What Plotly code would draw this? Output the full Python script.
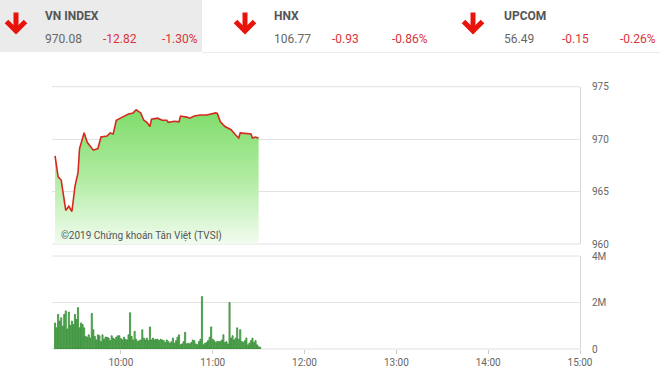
import pandas as pd
import plotly.graph_objects as go

DAY = "2019-01-01 "

# ---- price line (VN-Index intraday) ----
price_times = ["09:17", "09:19", "09:21", "09:22", "09:24", "09:26", "09:28", "09:30", "09:32", "09:33",
               "09:36", "09:38", "09:42", "09:45", "09:47", "09:51", "09:53", "09:55", "09:57", "10:01",
               "10:05", "10:08", "10:10", "10:13", "10:15", "10:17", "10:19", "10:20", "10:24", "10:27",
               "10:30", "10:31", "10:35", "10:38", "10:39", "10:43", "10:45", "10:48", "10:52", "10:56",
               "11:00", "11:02", "11:03", "11:05", "11:08", "11:12", "11:15", "11:17", "11:18", "11:21",
               "11:25", "11:26", "11:28", "11:30"]
price_values = [968.4, 966.4, 966.1, 965.1, 963.2, 963.6, 963.1, 965.5, 966.8, 969.1,
                970.6, 969.7, 968.95, 969.1, 970.2, 970.3, 970.6, 970.5, 971.8, 972.1,
                972.4, 972.5, 972.8, 972.5, 971.8, 971.6, 971.2, 971.9, 972.0, 971.8,
                971.8, 971.6, 971.7, 971.65, 972.2, 972.1, 972.0, 972.2, 972.3, 972.3,
                972.4, 972.5, 972.45, 971.65, 971.2, 970.9, 970.4, 970.1, 970.6, 970.55,
                970.5, 970.1, 970.2, 970.08]

# ---- volume (millions of shares), one bar per minute from 09:17 ----
vol_start = "09:17"
volumes = [1.12, 0.91, 1.49, 1.20, 1.34, 0.98, 1.49, 1.64, 0.86, 1.59, 1.01,
           1.20, 1.05, 1.49, 1.27, 1.78, 0.91, 1.12, 1.05, 0.91, 0.54, 0.51,
           0.61, 0.47, 1.53, 0.83, 0.54, 0.39, 0.61, 0.57, 0.32, 0.61, 0.42,
           0.51, 0.51, 0.47, 0.36, 0.57, 0.47, 0.42, 0.51, 0.57, 0.57, 0.45,
           0.39, 0.51, 0.42, 0.39, 0.61, 1.56, 0.54, 0.39, 0.76, 0.42, 0.32,
           0.36, 0.39, 0.83, 0.47, 0.39, 0.47, 0.36, 0.95, 0.39, 0.47, 0.39,
           0.42, 0.42, 0.36, 0.42, 0.39, 0.36, 0.28, 0.39, 0.32, 0.25, 0.31,
           0.47, 0.25, 0.36, 0.51, 0.61, 0.18, 0.22, 0.32, 0.72, 0.22, 0.25,
           0.22, 0.28, 0.39, 0.36, 0.22, 0.18, 0.32, 0.42, 2.26, 0.18, 0.25,
           0.28, 0.36, 0.51, 0.95, 0.42, 0.36, 0.28, 0.32, 0.32, 0.32,
           0.39, 0.61, 0.28, 0.32, 0.22, 2.00, 0.47, 0.57, 0.39, 0.47,
           0.91, 0.42, 0.83, 0.32, 0.28, 0.36, 0.47, 0.18, 0.25, 0.36,
           0.47, 0.28, 0.36, 0.18, 0.10, 0.07]

# ---- axis ticks ----
x_tick_labels = ["10:00", "11:00", "12:00", "13:00", "14:00", "15:00"]
price_ticks = [960, 965, 970, 975]
vol_ticks = [0, 2, 4]
vol_tick_labels = ["0", "2M", "4M"]

# ---- header quotes ----
idx_names = ["VN INDEX", "HNX", "UPCOM"]
idx_values = ["970.08", "106.77", "56.49"]
idx_changes = ["-12.82", "-0.93", "-0.15"]
idx_pcts = ["-1.30%", "-0.86%", "-0.26%"]

W, H = 660, 377
ML, MR = 52, 80
PW = W - ML - MR


def px(x):
    return (x - ML) / PW


def py(y):
    return 1 - y / H


pt = pd.to_datetime([DAY + t for t in price_times])
vt = pd.date_range(DAY + vol_start, periods=len(volumes), freq="min")

fig = go.Figure()
fig.add_trace(go.Scatter(
    x=pt, y=price_values, mode="lines", xaxis="x", yaxis="y",
    line=dict(color="#d52a1f", width=1.6),
    fill="tozeroy",
    fillgradient=dict(type="vertical", start=960, stop=973,
                      colorscale=[[0, "rgb(242,252,240)"], [0.5, "rgb(175,235,160)"],
                                  [1, "rgb(125,220,105)"]]),
    hoverinfo="skip", showlegend=False,
))
fig.add_trace(go.Bar(
    x=vt, y=volumes, xaxis="x2", yaxis="y2",
    marker=dict(color="#6cc26c", line=dict(color="#2a832a", width=0.7)),
    hoverinfo="skip", showlegend=False,
))

xr = [DAY + "09:15", DAY + "15:00"]
tickvals = [DAY + t for t in x_tick_labels]
axis_font = dict(family="Roboto", size=10, color="#666")

fig.update_layout(
    width=W, height=H,
    margin=dict(l=ML, r=MR, t=0, b=0),
    paper_bgcolor="white", plot_bgcolor="white",
    bargap=0.25,
    xaxis=dict(domain=[0, 1], anchor="y", range=xr, showgrid=False, showticklabels=False,
               zeroline=False, showline=False, ticks="", automargin=False),
    yaxis=dict(domain=[py(244), py(86.7)], anchor="x", side="right", range=[960, 975],
               tickvals=price_ticks, gridcolor="#e3e3e3", gridwidth=1, zeroline=False,
               showline=True, linecolor="#d8d8d8", linewidth=1, ticks="outside",
               ticklen=9, tickcolor="rgba(0,0,0,0)", tickfont=axis_font, automargin=False),
    xaxis2=dict(domain=[0, 1], anchor="y2", range=xr, matches="x", showgrid=False,
                tickvals=tickvals, ticktext=x_tick_labels, ticks="outside", ticklen=4,
                tickcolor="#cfcfcf", showline=False, zeroline=False, tickfont=axis_font,
                automargin=False),
    yaxis2=dict(domain=[py(349), py(256)], anchor="x2", side="right", range=[0, 4],
                tickvals=vol_ticks, ticktext=vol_tick_labels, gridcolor="#e3e3e3",
                zeroline=False, showline=True, linecolor="#d8d8d8", linewidth=1,
                ticks="outside", ticklen=9, tickcolor="rgba(0,0,0,0)", tickfont=axis_font,
                automargin=False),
)

shapes = [
    dict(type="rect", xref="paper", yref="paper", x0=px(0), x1=px(202), y0=py(52), y1=py(0),
         fillcolor="#ebebeb", line=dict(width=0), layer="below"),
    dict(type="line", xref="paper", yref="paper", x0=px(202), x1=px(660), y0=py(52.5), y1=py(52.5),
         line=dict(color="#ececec", width=1)),
]
# edge grid lines of both panels (top and bottom of each plot area)
for yref in ["y domain", "y2 domain"]:
    for yv in [0, 1]:
        shapes.append(dict(type="line", xref="x domain", yref=yref, x0=0, x1=1, y0=yv, y1=yv,
                           line=dict(color="#e0e0e0", width=1), layer="below"))

arrow_x = [16, 245, 473]
for ax in arrow_x:
    shapes.append(dict(type="line", xref="paper", yref="paper",
                       x0=px(ax), x1=px(ax), y0=py(12.5), y1=py(30),
                       line=dict(color="#e8140c", width=5)))
    shapes.append(dict(type="path", xref="paper", yref="paper",
                       path=f"M {px(ax-9.5)},{py(21.5)} L {px(ax)},{py(31)} L {px(ax+9.5)},{py(21.5)}",
                       line=dict(color="#e8140c", width=5)))

annotations = []
name_x = [43, 272, 502]
chg_x = [101, 330, 560]
pct_x = [160, 390, 618]
for i in range(3):
    annotations.append(dict(x=px(name_x[i]), y=py(16), xref="paper", yref="paper",
                            text=f"<b>{idx_names[i]}</b>", showarrow=False, xanchor="left",
                            yanchor="middle", font=dict(family="Roboto", size=12, color="#555")))
    annotations.append(dict(x=px(name_x[i]), y=py(38.5), xref="paper", yref="paper",
                            text=idx_values[i], showarrow=False, xanchor="left", yanchor="middle",
                            font=dict(family="Roboto", size=12, color="#666")))
    annotations.append(dict(x=px(chg_x[i]), y=py(38.5), xref="paper", yref="paper",
                            text=idx_changes[i], showarrow=False, xanchor="left", yanchor="middle",
                            font=dict(family="Roboto", size=12, color="#d9343a")))
    annotations.append(dict(x=px(pct_x[i]), y=py(38.5), xref="paper", yref="paper",
                            text=idx_pcts[i], showarrow=False, xanchor="left", yanchor="middle",
                            font=dict(family="Roboto", size=12, color="#d9343a")))

annotations.append(dict(x=px(59), y=py(236), xref="paper", yref="paper",
                        text="©2019 Chứng khoán Tân Việt (TVSI)", showarrow=False,
                        xanchor="left", yanchor="middle",
                        font=dict(family="Roboto", size=10, color="#555")))

fig.update_layout(shapes=shapes, annotations=annotations)
fig.write_html("out.html")
